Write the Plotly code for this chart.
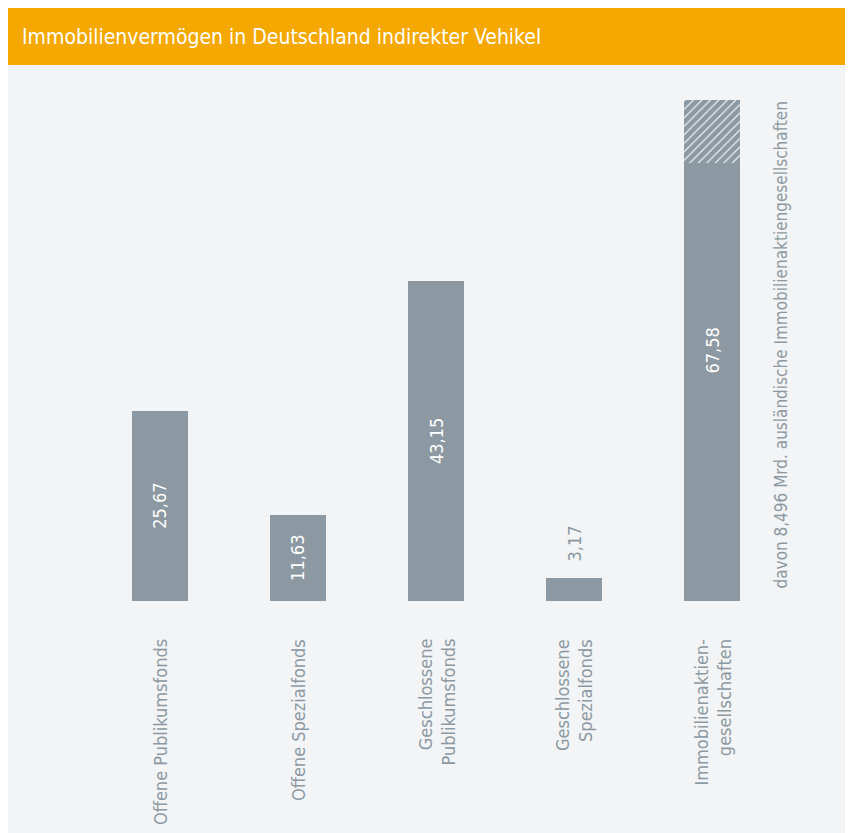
import plotly.graph_objects as go

# ---- data ----
categories = ["Offene Publikumsfonds", "Offene Spezialfonds", "Geschlossene Publikumsfonds",
              "Geschlossene Spezialfonds", "Immobilienaktiengesellschaften"]
cat_labels = ["Offene Publikumsfonds", "Offene Spezialfonds", "Geschlossene<br>Publikumsfonds",
              "Geschlossene<br>Spezialfonds", "Immobilienaktien-<br>gesellschaften"]
totals = [25.67, 11.63, 43.15, 3.17, 67.58]
foreign = [0, 0, 0, 0, 8.496]
value_labels = ["25,67", "11,63", "43,15", "3,17", "67,58"]
note_text = "davon 8,496 Mrd. ausländische Immobilienaktiengesellschaften"
title_text = "Immobilienvermögen in Deutschland indirekter Vehikel"

solid = [t - f for t, f in zip(totals, foreign)]

BAR = "#8c99a2"
BG = "#f3f4f6"
ORANGE = "#f5a800"
FONT = "Liberation Sans Narrow, DejaVu Sans Condensed, Roboto, sans-serif"

W, H = 853, 833
L, R, T, B = 83, 80, 92, 240
PW, PH = W - L - R, H - T - B


def xp(px):
    return (px - L) / PW


def yp(py):
    return (H - B - py) / PH


fig = go.Figure()
fig.add_trace(go.Bar(x=categories, y=solid, marker=dict(color=BAR, line=dict(width=0)),
                     hoverinfo="skip"))
fig.add_trace(go.Bar(x=categories, y=foreign,
                     marker=dict(color=BAR, line=dict(width=0),
                                 pattern=dict(shape="/", fillmode="replace", bgcolor=BAR,
                                              fgcolor="white", size=6, solidity=0.18)),
                     hoverinfo="skip"))

annotations = []
for c, lab, tot, vl in zip(categories, cat_labels, totals, value_labels):
    annotations.append(dict(x=c, y=0, xref="x", yref="y", text=lab, textangle=-90,
                            xanchor="center", yanchor="top", yshift=-36, align="right",
                            showarrow=False, font=dict(family=FONT, size=18, color=BAR)))
    if tot > 8:
        annotations.append(dict(x=c, y=tot / 2, xref="x", yref="y", text=vl, textangle=-90,
                                xanchor="center", yanchor="middle", showarrow=False,
                                font=dict(family=FONT, size=18, color="white")))
    else:
        annotations.append(dict(x=c, y=tot, xref="x", yref="y", text=vl, textangle=-90,
                                xanchor="center", yanchor="bottom", yshift=14, showarrow=False,
                                font=dict(family=FONT, size=18, color=BAR)))

annotations.append(dict(x=xp(772), y=1, xref="paper", yref="paper", text=note_text,
                        textangle=-90, xanchor="center", yanchor="top", align="right",
                        showarrow=False, font=dict(family=FONT, size=17, color=BAR)))

shapes = [
    dict(type="rect", xref="paper", yref="paper", x0=-0.3, x1=1.3, y0=yp(57), y1=1.4,
         fillcolor=ORANGE, line=dict(width=0)),
]

fig.update_layout(
    width=W, height=H,
    margin=dict(l=L, r=R, t=T, b=B),
    paper_bgcolor=BG, plot_bgcolor=BG,
    barmode="stack", bargap=0.594, showlegend=False,
    title=dict(text=title_text, xref="container", yref="container", x=14 / W,
               y=1 - 29 / H, xanchor="left", yanchor="middle",
               font=dict(family=FONT, size=21, color="white")),
    xaxis=dict(range=[-0.5, 4.5], showticklabels=False, showgrid=False, zeroline=False,
               showline=False, ticks=""),
    yaxis=dict(range=[0, 67.58], showticklabels=False, showgrid=False, zeroline=False,
               showline=False, ticks=""),
    annotations=annotations,
    shapes=shapes,
)

fig.write_html("out.html",
               post_script="document.documentElement.style.overflow='hidden';"
                           "document.body.style.overflow='hidden';")
